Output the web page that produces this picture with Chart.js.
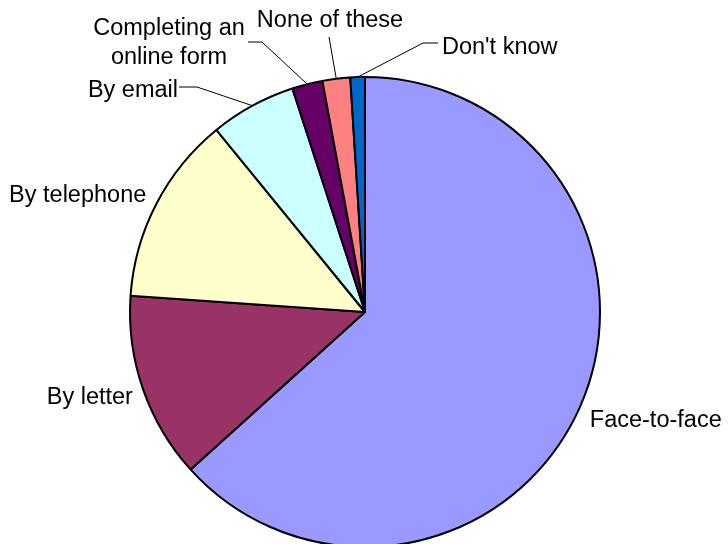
<!DOCTYPE html>
<html>
<head>
<meta charset="utf-8">
<script src="https://cdn.jsdelivr.net/npm/chart.js@4/dist/chart.umd.min.js"></script>
<style>
  html, body { margin: 0; padding: 0; background: #fff; overflow: hidden; }
  #wrap { position: relative; width: 728px; height: 544px; }
</style>
</head>
<body>
<div id="wrap"><canvas id="pieChart"></canvas></div>
<script>
// ===============================
// Data
// ===============================
const categories = ['Face-to-face', 'By letter', 'By telephone', 'By email',
  'Completing an online form', 'None of these', "Don't know"];
const shares = [63.3, 12.8, 13.0, 5.9, 2.1, 1.9, 1.0];
const sliceColors = ['#9999FF', '#993366', '#FFFFCC', '#CCFFFF', '#660066', '#FF8080', '#0066CC'];

// ===============================
// Label placement
// ===============================
// plain labels sit just outside the arc midpoint (dx/dy from the edge point, baseline)
// leader labels have their own text spot and an elbow before the line runs to the arc
const labelLayout = [
  { lines: ['Face-to-face'], align: 'left', dx: 10, dy: 20 },
  { lines: ['By letter'], align: 'right', dx: -10, dy: 15 },
  { lines: ['By telephone'], align: 'right', dx: -10, dy: -2 },
  { lines: ['By email'], align: 'right', x: 178, y: 97, from: [179, 87], elbow: [197, 87] },
  { lines: ['Completing an', 'online form'], align: 'center', x: 169, y: 35, from: [248, 42], elbow: [262, 42] },
  { lines: ['None of these'], align: 'center', x: 330, y: 27, from: [329, 37] },
  { lines: ["Don't know"], align: 'left', x: 442, y: 54, from: [438, 43], elbow: [423, 43] }
];

const FONT = '23.5px "Liberation Sans", Arial, sans-serif';
const LINE_H = 29;

const pieLabels = {
  id: 'pieLabels',
  afterDraw(chart) {
    const ctx = chart.ctx;
    const arcs = chart.getDatasetMeta(0).data;
    ctx.save();
    ctx.font = FONT;
    ctx.fillStyle = '#000';
    ctx.strokeStyle = '#000';
    ctx.lineWidth = 1;
    ctx.textBaseline = 'alphabetic';

    arcs.forEach((arc, i) => {
      const cfg = labelLayout[i];
      const { x, y, startAngle, endAngle, outerRadius } = arc.getProps(
        ['x', 'y', 'startAngle', 'endAngle', 'outerRadius'], true);
      const mid = (startAngle + endAngle) / 2;
      const ex = x + Math.cos(mid) * outerRadius;
      const ey = y + Math.sin(mid) * outerRadius;

      let tx, ty;
      if (cfg.from) {
        tx = cfg.x;
        ty = cfg.y;
        // leader line: text -> elbow -> arc edge
        ctx.beginPath();
        ctx.moveTo(cfg.from[0], cfg.from[1]);
        if (cfg.elbow) ctx.lineTo(cfg.elbow[0], cfg.elbow[1]);
        ctx.lineTo(ex, ey);
        ctx.stroke();
      } else {
        tx = ex + cfg.dx;
        ty = ey + cfg.dy;
      }

      ctx.textAlign = cfg.align;
      cfg.lines.forEach((line, k) => {
        ctx.fillText(line, tx, ty + k * LINE_H);
      });
    });
    ctx.restore();
  }
};

// ===============================
// Chart
// ===============================
const canvas = document.getElementById('pieChart');
canvas.width = 728;
canvas.height = 544;

new Chart(canvas.getContext('2d'), {
  type: 'pie',
  data: {
    labels: categories,
    datasets: [{
      data: shares,
      backgroundColor: sliceColors,
      borderColor: '#000000',
      borderWidth: 2
    }]
  },
  options: {
    responsive: false,
    animation: false,
    radius: 235,
    layout: { padding: { left: 2, right: 0, top: 80, bottom: 0 } },
    plugins: {
      legend: { display: false },
      tooltip: { enabled: false }
    }
  },
  plugins: [pieLabels]
});
</script>
</body>
</html>
